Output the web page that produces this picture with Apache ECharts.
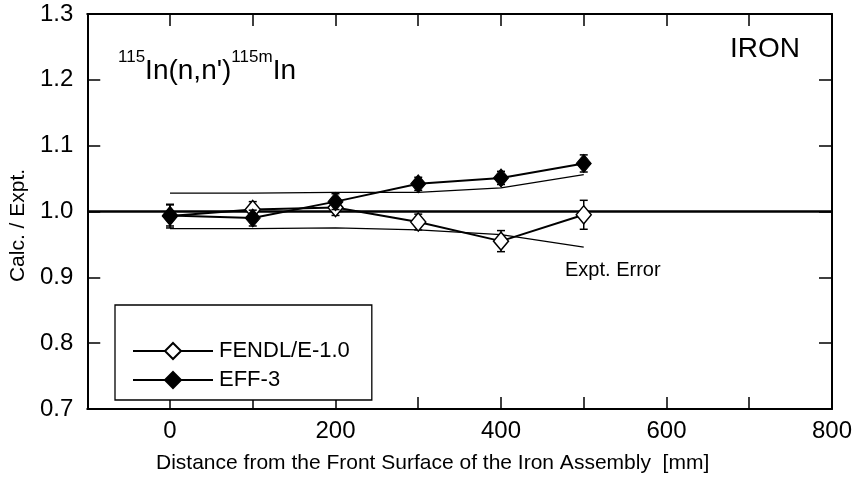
<!DOCTYPE html>
<html>
<head>
<meta charset="utf-8">
<script src="https://cdn.jsdelivr.net/npm/echarts@6/dist/echarts.min.js"></script>
<style>
html,body{margin:0;padding:0;background:#fff;}
#chart{width:855px;height:479px;}
</style>
</head>
<body>
<div id="chart"></div>
<script>
// ---- data ----
var distances = [0, 100, 200, 300, 400, 500];
var fendl = [0.993, 1.003, 1.006, 0.984, 0.955, 0.995];
var fendlErr = [0.018, 0.012, 0.012, 0.012, 0.016, 0.022];
var eff3 = [0.994, 0.990, 1.015, 1.042, 1.051, 1.073];
var eff3Err = [0.016, 0.012, 0.012, 0.010, 0.010, 0.013];
var exptErrUpper = [1.028, 1.028, 1.029, 1.029, 1.036, 1.056];
var exptErrLower = [0.974, 0.974, 0.975, 0.972, 0.965, 0.946];
var refX = [-100, 800];
var refY = [1.0, 1.0];
var xTickLabels = [0, 200, 400, 600, 800];
var seriesNames = ['FENDL/E-1.0', 'EFF-3'];

var FONT = 'Liberation Sans, Arial, Helvetica, sans-serif';

function pairs(xs, ys) { return xs.map(function (x, i) { return [x, ys[i]]; }); }
function triples(xs, ys, es) { return xs.map(function (x, i) { return [x, ys[i], es[i]]; }); }

function errRender(params, api) {
  var x = api.value(0), y = api.value(1), e = api.value(2);
  var top = api.coord([x, y + e]);
  var bot = api.coord([x, y - e]);
  var cw = 4;
  var st = { stroke: '#000', lineWidth: 1.5 };
  return {
    type: 'group',
    children: [
      { type: 'line', shape: { x1: top[0], y1: top[1], x2: bot[0], y2: bot[1] }, style: st },
      { type: 'line', shape: { x1: top[0] - cw, y1: top[1], x2: top[0] + cw, y2: top[1] }, style: st },
      { type: 'line', shape: { x1: bot[0] - cw, y1: bot[1], x2: bot[0] + cw, y2: bot[1] }, style: st }
    ]
  };
}

var chart = echarts.init(document.getElementById('chart'), null, { renderer: 'canvas' });

var axisCommonX = {
  type: 'value', min: -100, max: 800, interval: 100,
  axisLine: { show: true, onZero: false, lineStyle: { color: '#000', width: 2 } },
  axisTick: { show: true, inside: true, length: 12, lineStyle: { color: '#000', width: 1.5 } },
  splitLine: { show: false }
};
var axisCommonY = {
  type: 'value', min: 0.7, max: 1.3, interval: 0.1,
  axisLine: { show: true, onZero: false, lineStyle: { color: '#000', width: 2 } },
  axisTick: { show: true, inside: true, length: 13, lineStyle: { color: '#000', width: 1.5 } },
  splitLine: { show: false }
};

var option = {
  animation: false,
  backgroundColor: '#fff',
  textStyle: { fontFamily: FONT, color: '#000' },
  title: [
    {
      text: '{sup|115}{m|In(n,n\')}{sup|115m}{m|In}',
      left: 118, top: 49, padding: 0,
      textStyle: {
        fontWeight: 'normal',
        rich: {
          m: { fontFamily: FONT, fontSize: 28, fontWeight: 'normal', lineHeight: 36, verticalAlign: 'bottom', color: '#000' },
          sup: { fontFamily: FONT, fontSize: 17, fontWeight: 'normal', lineHeight: 14, verticalAlign: 'top', color: '#000' }
        }
      }
    },
    {
      text: 'IRON', left: 730, top: 35, padding: 0,
      textStyle: { fontFamily: FONT, fontSize: 28, fontWeight: 'normal', color: '#000', lineHeight: 28 }
    },
    {
      text: 'Expt. Error', left: 565, top: 260, padding: 0,
      textStyle: { fontFamily: FONT, fontSize: 20, fontWeight: 'normal', color: '#000', lineHeight: 20 }
    }
  ],
  legend: {
    data: seriesNames,
    orient: 'vertical',
    left: 115, top: 305,
    padding: [35, 22, 9, 17],
    itemWidth: 80, itemHeight: 20, itemGap: 7,
    borderColor: '#000', borderWidth: 1.3, borderRadius: 0,
    backgroundColor: '#fff',
    textStyle: { fontFamily: FONT, fontSize: 22, color: '#000', padding: [0, 0, 0, 1] },
    selectedMode: false
  },
  grid: { left: 86.5, right: 17, top: 14, bottom: 59, containLabel: false },
  xAxis: [
    Object.assign({}, axisCommonX, {
      position: 'bottom',
      axisLabel: {
        show: true, margin: 10, fontSize: 24, fontFamily: FONT, color: '#000',
        showMinLabel: true, showMaxLabel: true,
        formatter: function (v) { return xTickLabels.indexOf(v) >= 0 ? String(v) : ''; }
      },
      name: 'Distance from the Front Surface of the Iron Assembly  [mm]',
      nameLocation: 'middle', nameGap: 44,
      nameTextStyle: { fontFamily: FONT, fontSize: 21, color: '#000', padding: [0, 54, 0, 0] }
    }),
    Object.assign({}, axisCommonX, { position: 'top', axisLabel: { show: false } })
  ],
  yAxis: [
    Object.assign({}, axisCommonY, {
      position: 'left',
      axisLabel: {
        show: true, margin: 14, fontSize: 24, fontFamily: FONT, color: '#000',
        formatter: function (v) { return v.toFixed(1); }
      },
      name: 'Calc. / Expt.',
      nameLocation: 'middle', nameGap: 48,
      nameTextStyle: { fontFamily: FONT, fontSize: 21, color: '#000', padding: [0, 28, 0, 0] }
    }),
    Object.assign({}, axisCommonY, { position: 'right', axisLabel: { show: false } })
  ],
  series: [
    {
      name: 'ref', type: 'line', data: pairs(refX, refY), symbol: 'none', z: 1,
      lineStyle: { color: '#000', width: 2.5 }, silent: true
    },
    {
      name: 'errUpper', type: 'line', data: pairs(distances, exptErrUpper), symbol: 'none', z: 1,
      lineStyle: { color: '#000', width: 1.3 }, silent: true
    },
    {
      name: 'errLower', type: 'line', data: pairs(distances, exptErrLower), symbol: 'none', z: 1,
      lineStyle: { color: '#000', width: 1.3 }, silent: true
    },
    {
      name: 'fendlErr', type: 'custom', data: triples(distances, fendl, fendlErr), renderItem: errRender, z: 2
    },
    {
      name: seriesNames[0], type: 'line', data: pairs(distances, fendl), z: 3,
      symbol: 'diamond', symbolSize: [15, 18], showAllSymbol: true,
      lineStyle: { color: '#000', width: 2 },
      itemStyle: { color: '#fff', borderColor: '#000', borderWidth: 1.5 }
    },
    {
      name: 'eff3Err', type: 'custom', data: triples(distances, eff3, eff3Err), renderItem: errRender, z: 4
    },
    {
      name: seriesNames[1], type: 'line', data: pairs(distances, eff3), z: 5,
      symbol: 'diamond', symbolSize: [15, 18], showAllSymbol: true,
      lineStyle: { color: '#000', width: 2 },
      itemStyle: { color: '#000', borderColor: '#000', borderWidth: 1 }
    }
  ]
};
chart.setOption(option);
</script>
</body>
</html>
